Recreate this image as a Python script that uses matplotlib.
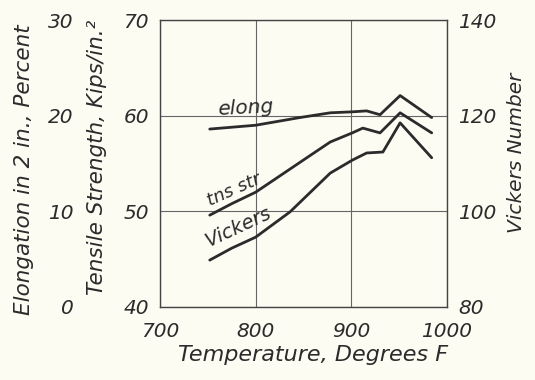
import matplotlib
matplotlib.use("Agg")
import matplotlib.pyplot as plt

# ---- data ----
temp_elong = [752, 800, 846, 878, 901, 916, 930, 951, 984]
elong = [18.6, 19.0, 19.8, 20.3, 20.4, 20.5, 20.1, 22.1, 19.8]

temp_tns = [752, 775, 800, 846, 878, 901, 912, 930, 951, 984]
tns = [49.6, 50.8, 52.0, 55.1, 57.25, 58.2, 58.7, 58.2, 60.3, 58.2]

temp_vick = [752, 775, 800, 836, 878, 901, 916, 933, 951, 984]
vick = [89.8, 92.3, 94.6, 99.9, 108.0, 110.7, 112.2, 112.4, 118.5, 111.2]

x_ticks = [700, 800, 900, 1000]
tns_ticks = [40, 50, 60, 70]
elong_ticks = [0, 10, 20, 30]
vick_ticks = [80, 100, 120, 140]

bg = "#fcfcf3"
ink = "#2b2b2b"
plt.rcParams["font.family"] = ["DejaVu Sans"]
plt.rcParams["font.style"] = "italic"
fs = 14.5
fs_lab = 16

fig = plt.figure(figsize=(5.35, 3.80), dpi=100, facecolor=bg)
ax = fig.add_axes([160/535, 1-307/380, (447-160)/535, (307-20)/380])
ax.set_facecolor(bg)
ax.set_xlim(700, 1000)
ax.set_ylim(40, 70)
ax.set_xticks(x_ticks)
ax.set_yticks(tns_ticks)
ax.grid(True, color="#666666", linewidth=0.8)
for s in ax.spines.values():
    s.set_color("#444444")
    s.set_linewidth(1.0)
ax.tick_params(length=0, labelsize=fs, colors=ink)
ax.tick_params(axis="y", pad=8)
ax.tick_params(axis="x", pad=11)

lw = 2.0
ax.plot(temp_tns, tns, color=ink, lw=lw, solid_joinstyle="round", solid_capstyle="round")

# elongation axis (left, outer)
ax_e = ax.twinx()
ax_e.set_ylim(0, 30)
ax_e.yaxis.set_ticks_position("left")
ax_e.set_yticks(elong_ticks)
ax_e.tick_params(length=0, pad=62, labelsize=fs, colors=ink)
for s in ax_e.spines.values():
    s.set_visible(False)
ax_e.plot(temp_elong, elong, color=ink, lw=lw, solid_joinstyle="round", solid_capstyle="round")

# Vickers axis (right)
ax_v = ax.twinx()
ax_v.set_ylim(80, 140)
ax_v.set_yticks(vick_ticks)
ax_v.tick_params(length=0, pad=8, labelsize=fs, colors=ink)
for s in ax_v.spines.values():
    s.set_visible(False)
ax_v.plot(temp_vick, vick, color=ink, lw=lw, solid_joinstyle="round", solid_capstyle="round")

# axis titles
fig.text(313/535, 1-355/380, "Temperature, Degrees F", ha="center", va="center",
         fontsize=fs_lab, color=ink)
fig.text(24/535, 1-170/380, "Elongation in 2 in., Percent", ha="center", va="center",
         rotation=90, fontsize=fs_lab-0.5, color=ink)
fig.text(97/535, 1-157/380, "Tensile Strength, Kips/in.²", ha="center", va="center",
         rotation=90, fontsize=fs_lab-0.5, color=ink)
fig.text(517/535, 1-153/380, "Vickers Number", ha="center", va="center",
         rotation=90, fontsize=fs, color=ink)

# curve labels
fig.text(245/535, 1-108/380, "elong", ha="center", va="center", rotation=3,
         fontsize=fs, color=ink)
fig.text(234/535, 1-190/380, "tns str", ha="center", va="center", rotation=24,
         fontsize=fs-1.5, color=ink)
fig.text(238/535, 1-227/380, "Vickers", ha="center", va="center", rotation=25,
         fontsize=fs-0.5, color=ink)

fig.savefig("out.png", dpi=100, facecolor=bg)
